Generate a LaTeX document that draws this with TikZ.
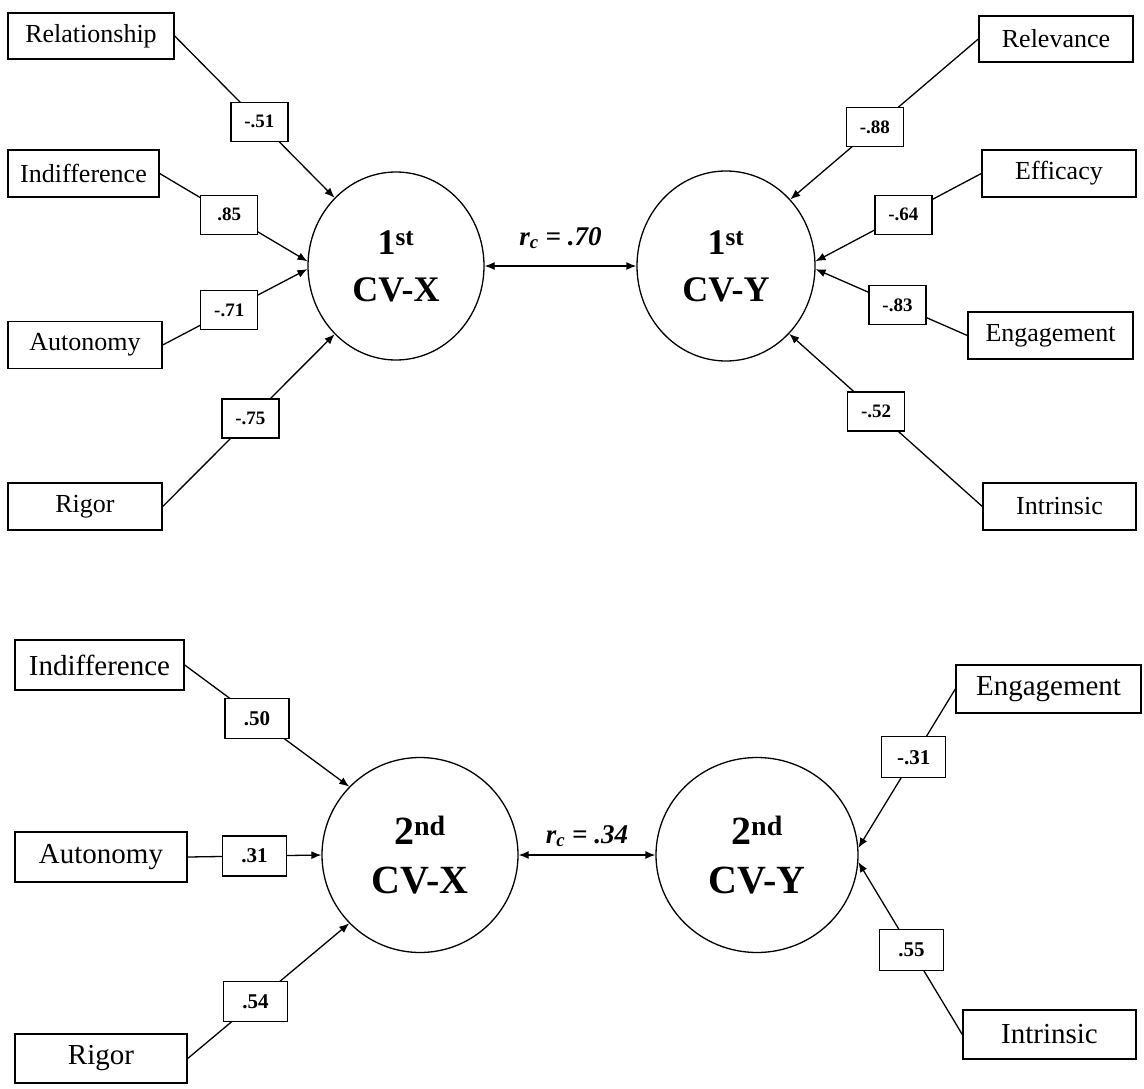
\documentclass[tikz,border=0pt]{standalone}
\usepackage{fontspec}
\setmainfont{Liberation Serif}
\usetikzlibrary{arrows.meta,shapes.geometric}

\begin{document}
\begin{tikzpicture}[x=1pt,y=-1pt,
  var/.style={draw,line width=1.4pt,minimum height=47pt,inner sep=0pt,font=\fontsize{26}{30}\selectfont},
  varb/.style={var,minimum height=49pt,font=\fontsize{29}{33}\selectfont},
  cv/.style={ellipse,draw,line width=1.3pt,inner sep=0pt,align=center,font=\bfseries\fontsize{36}{47}\selectfont},
  cvb/.style={cv,font=\bfseries\fontsize{40}{49}\selectfont},
  lbl/.style={draw,fill=white,line width=1.3pt,minimum width=57pt,minimum height=39pt,inner sep=0pt,font=\bfseries\fontsize{19}{22}\selectfont},
  lblb/.style={lbl,minimum width=64pt,minimum height=40pt,font=\bfseries\fontsize{21}{24}\selectfont},
  arr/.style={-{Latex[length=10pt,width=8pt]},line width=1.3pt},
  corr/.style={{Latex[length=10pt,width=8pt]}-{Latex[length=10pt,width=8pt]},line width=1.3pt},
  rc/.style={font=\bfseries\itshape\fontsize{27}{30}\selectfont}]
  \useasboundingbox (0,0) rectangle (1144,1089);
  % 1st canonical pair
  \node[cv,minimum width=176pt,minimum height=188pt] (cvx1) at (396,266) {1\textsuperscript{st}\\CV-X};
  \node[cv,minimum width=178pt,minimum height=190pt] (cvy1) at (726,266) {1\textsuperscript{st}\\CV-Y};
  \draw[corr] (cvx1.east) -- node[midway,anchor=base,yshift=21pt,rc] (rc1) {r\textsubscript{c} = .70} (cvy1.west);
  % X side
  \node[var,minimum width=166pt,minimum height=46pt] (rel1) at (91,36) {Relationship};
  \node[var,minimum width=151pt] (ind1) at (83.5,173.5) {Indifference};
  \node[var,minimum width=154pt] (aut1) at (85,345) {Autonomy};
  \node[var,minimum width=154pt] (rig1) at (85,506.5) {Rigor};
  \draw[arr] (rel1.east) -- node[pos=.53,lbl]{-.51} (cvx1.132);
  \draw[arr] (ind1.east) -- node[pos=.47,lbl]{.85} (cvx1.177);
  \draw[arr] (aut1.east) -- node[pos=.46,lbl]{-.71} (cvx1.182);
  \draw[arr] (rig1.east) -- node[pos=.51,lbl]{-.75} (cvx1.228);
  % Y side
  \node[var,minimum width=154pt,minimum height=46pt] (rlv1) at (1056,39) {Relevance};
  \node[var,minimum width=154pt] (eff1) at (1059,173.5) {Efficacy};
  \node[var,minimum width=165pt] (eng1) at (1050.5,335.5) {Engagement};
  \node[var,minimum width=153pt] (int1) at (1059.5,506.5) {Intrinsic};
  \draw[arr] (rlv1.west) -- node[pos=.55,lbl]{-.88} (cvy1.46);
  \draw[arr] (eff1.west) -- node[pos=.47,lbl]{-.64} (cvy1.3);
  \draw[arr] (eng1.west) -- node[pos=.46,lbl]{-.83} (cvy1.358);
  \draw[arr] (int1.west) -- node[pos=.55,lbl]{-.52} (cvy1.313);

  % 2nd canonical pair
  \node[cvb,minimum width=196pt,minimum height=195pt] (cvx2) at (420,855) {2\textsuperscript{nd}\\CV-X};
  \node[cvb,minimum width=202pt,minimum height=195pt] (cvy2) at (757,855) {2\textsuperscript{nd}\\CV-Y};
  \draw[corr] (cvx2.east) -- node[midway,anchor=base,yshift=12pt,rc] (rc2) {r\textsubscript{c} = .34} (cvy2.west);
  % X side
  \node[varb,minimum width=169pt,minimum height=50pt] (ind2) at (99.5,665) {Indifference};
  \node[varb,minimum width=172pt,minimum height=50pt] (aut2) at (101,857) {Autonomy};
  \node[varb,minimum width=172pt] (rig2) at (101,1058.5) {Rigor};
  \draw[arr] (ind2.east) -- node[pos=.44,lblb]{.50} (cvx2.136);
  \draw[arr] (aut2.east) -- node[pos=.5,lblb]{.31} (cvx2.west);
  \draw[arr] (rig2.east) -- node[pos=.42,lblb]{.54} (cvx2.224);
  % Y side
  \node[varb,minimum width=185pt,minimum height=48pt] (eng2) at (1048.5,689) {Engagement};
  \node[varb,minimum width=173pt] (int2) at (1049.5,1034.5) {Intrinsic};
  \draw[arr] (eng2.west) -- node[pos=.43,lblb,minimum height=41pt]{-.31} (cvy2.4);
  \draw[arr] (int2.west) -- node[pos=.49,lblb,minimum height=41pt]{.55} (cvy2.356);
\end{tikzpicture}
\end{document}
